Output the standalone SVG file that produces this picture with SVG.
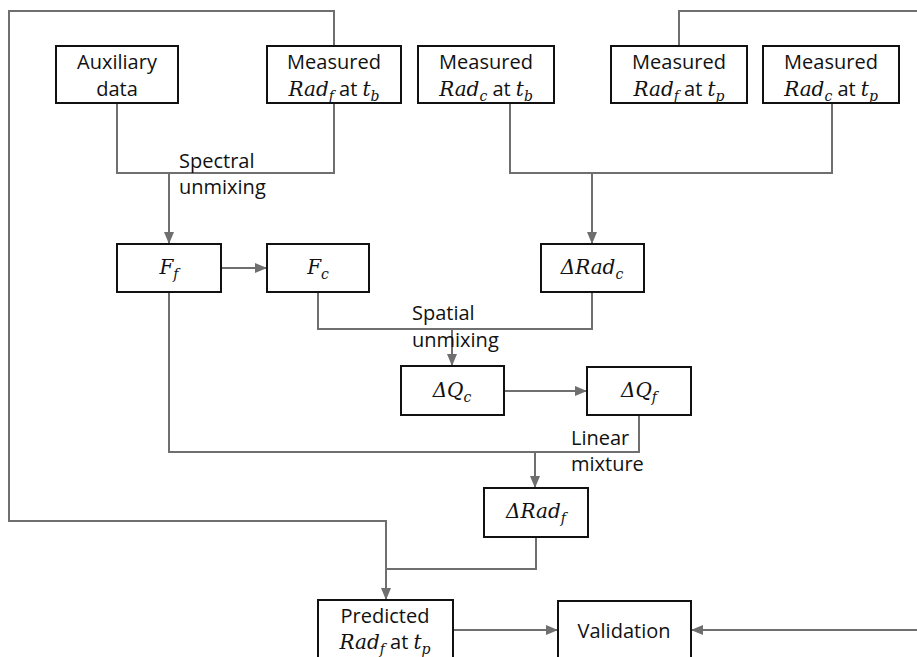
<svg xmlns="http://www.w3.org/2000/svg" width="917" height="657" viewBox="0 0 917 657">
<defs>
<style>
.box{fill:#fff;stroke:#111;stroke-width:2}
.c{fill:none;stroke:#6f6f6f;stroke-width:2}
text{font-family:"Open Sans","Liberation Sans",sans-serif;font-size:20px;fill:#111}
.t{text-anchor:middle}
.m{font-family:"DejaVu Serif","Liberation Serif",serif;font-style:italic;font-size:20px}
.s{font-family:"DejaVu Serif","Liberation Serif",serif;font-style:italic;font-size:14px}
</style>
<marker id="ah" markerUnits="userSpaceOnUse" markerWidth="12" markerHeight="10" refX="11" refY="5" orient="auto">
<path d="M0,0 L12,5 L0,10 Z" fill="#6f6f6f"/>
</marker>
</defs>
<rect width="917" height="657" fill="#fff"/>
<g id="connectors">
<path class="c" d="M334 46 V11 H9 V521 H386 V599" marker-end="url(#ah)"/>
<path class="c" d="M679 46 V11 H917"/>
<path class="c" d="M917 630 H692" marker-end="url(#ah)"/>
<path class="c" d="M117 103 V173 H334 V103"/>
<path class="c" d="M169 173 V243" marker-end="url(#ah)"/>
<path class="c" d="M510 103 V173 H832 V103"/>
<path class="c" d="M592 173 V243" marker-end="url(#ah)"/>
<path class="c" d="M221 268 H266" marker-end="url(#ah)"/>
<path class="c" d="M318 292 V329 H592 V292"/>
<path class="c" d="M452 329 V365" marker-end="url(#ah)"/>
<path class="c" d="M504 391 H586" marker-end="url(#ah)"/>
<path class="c" d="M639 415 V452 H169 V292"/>
<path class="c" d="M535 452 V487" marker-end="url(#ah)"/>
<path class="c" d="M536 537 V569 H386"/>
<path class="c" d="M453 630 H557" marker-end="url(#ah)"/>
</g>
<g id="labels">
<text x="179" y="168">Spectral</text>
<text x="179" y="194">unmixing</text>
<text x="412" y="320">Spatial</text>
<text x="412" y="347">unmixing</text>
<text x="571" y="445">Linear</text>
<text x="571" y="471">mixture</text>
</g>
<g id="aux">
<rect class="box" x="56" y="46" width="122" height="57"/>
<text class="t" x="117" y="69">Auxiliary</text>
<text class="t" x="117" y="96">data</text>
</g>
<g id="meas-radf-tb">
<rect class="box" x="267" y="46" width="134" height="57"/>
<text class="t" x="334" y="69">Measured</text>
<text class="t" x="334" y="96"><tspan class="m">Rad</tspan><tspan class="s" dy="5">f</tspan><tspan dy="-5"> at </tspan><tspan class="m">t</tspan><tspan class="s" dy="5">b</tspan></text>
</g>
<g id="meas-radc-tb">
<rect class="box" x="418" y="46" width="136" height="57"/>
<text class="t" x="486" y="69">Measured</text>
<text class="t" x="486" y="96"><tspan class="m">Rad</tspan><tspan class="s" dy="5">c</tspan><tspan dy="-5"> at </tspan><tspan class="m">t</tspan><tspan class="s" dy="5">b</tspan></text>
</g>
<g id="meas-radf-tp">
<rect class="box" x="611" y="46" width="136" height="57"/>
<text class="t" x="679" y="69">Measured</text>
<text class="t" x="679" y="96"><tspan class="m">Rad</tspan><tspan class="s" dy="5">f</tspan><tspan dy="-5"> at </tspan><tspan class="m">t</tspan><tspan class="s" dy="5">p</tspan></text>
</g>
<g id="meas-radc-tp">
<rect class="box" x="763" y="46" width="136" height="57"/>
<text class="t" x="831" y="69">Measured</text>
<text class="t" x="831" y="96"><tspan class="m">Rad</tspan><tspan class="s" dy="5">c</tspan><tspan dy="-5"> at </tspan><tspan class="m">t</tspan><tspan class="s" dy="5">p</tspan></text>
</g>
<g id="Ff">
<rect class="box" x="117" y="244" width="104" height="48"/>
<text class="t" x="169" y="274"><tspan class="m">F</tspan><tspan class="s" dy="5">f</tspan></text>
</g>
<g id="Fc">
<rect class="box" x="267" y="244" width="102" height="48"/>
<text class="t" x="318" y="274"><tspan class="m">F</tspan><tspan class="s" dy="5">c</tspan></text>
</g>
<g id="dRadc">
<rect class="box" x="541" y="244" width="103" height="48"/>
<text class="t" x="592" y="274"><tspan class="m">ΔRad</tspan><tspan class="s" dy="5">c</tspan></text>
</g>
<g id="dQc">
<rect class="box" x="401" y="366" width="103" height="49"/>
<text class="t" x="452" y="397"><tspan class="m">ΔQ</tspan><tspan class="s" dy="5">c</tspan></text>
</g>
<g id="dQf">
<rect class="box" x="587" y="367" width="104" height="48"/>
<text class="t" x="639" y="397"><tspan class="m">ΔQ</tspan><tspan class="s" dy="5">f</tspan></text>
</g>
<g id="dRadf">
<rect class="box" x="484" y="488" width="104" height="49"/>
<text class="t" x="536" y="518"><tspan class="m">ΔRad</tspan><tspan class="s" dy="5">f</tspan></text>
</g>
<g id="predicted">
<rect class="box" x="318" y="600" width="135" height="60"/>
<text class="t" x="385" y="623">Predicted</text>
<text class="t" x="385" y="649"><tspan class="m">Rad</tspan><tspan class="s" dy="5">f</tspan><tspan dy="-5"> at </tspan><tspan class="m">t</tspan><tspan class="s" dy="5">p</tspan></text>
</g>
<g id="validation">
<rect class="box" x="558" y="601" width="133" height="60"/>
<text class="t" x="624" y="638">Validation</text>
</g>
</svg>
